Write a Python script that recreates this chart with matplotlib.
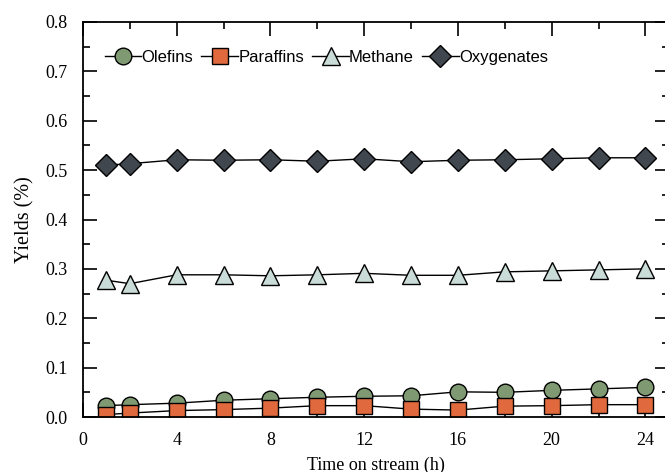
import numpy as np
import matplotlib.pyplot as plt
from matplotlib.ticker import MultipleLocator

# Time on stream (h)
time_h = [1, 2, 4, 6, 8, 10, 12, 14, 16, 18, 20, 22, 24]

olefins = [0.023, 0.025, 0.028, 0.034, 0.037, 0.040, 0.042, 0.043, 0.051, 0.050, 0.054, 0.057, 0.060]
paraffins = [0.005, 0.008, 0.013, 0.015, 0.018, 0.023, 0.023, 0.016, 0.014, 0.022, 0.023, 0.025, 0.025]
methane = [0.277, 0.270, 0.288, 0.288, 0.286, 0.288, 0.291, 0.287, 0.287, 0.294, 0.296, 0.298, 0.300]
oxygenates = [0.510, 0.513, 0.521, 0.520, 0.521, 0.518, 0.523, 0.517, 0.520, 0.521, 0.523, 0.525, 0.525]

series = [
    ("Olefins", olefins, 'o', '#7f9a72', 12),
    ("Paraffins", paraffins, 's', '#e0693e', 11),
    ("Methane", methane, '^', '#c9dcd8', 13),
    ("Oxygenates", oxygenates, 'D', '#41474f', 11),
]

plt.rcParams['font.family'] = 'Liberation Serif'

fig = plt.figure(figsize=(6.65, 4.72), dpi=100)
# axes run slightly past the right edge of the canvas, as in the original
ax = fig.add_axes([0.1248, 0.1165, 0.881, 0.8369])

for name, vals, mk, col, ms in series:
    ax.plot(time_h, vals, color='black', linewidth=1.0, marker=mk, markersize=ms,
            markerfacecolor=col, markeredgecolor='black', markeredgewidth=1.0,
            label=name)

ax.set_xlim(0, 25)
ax.set_ylim(0, 0.8)
ax.set_xticks([0, 4, 8, 12, 16, 20, 24])
ax.xaxis.set_minor_locator(MultipleLocator(2))
ax.yaxis.set_major_locator(MultipleLocator(0.1))
ax.yaxis.set_minor_locator(MultipleLocator(0.05))
ax.set_yticklabels([f"{v:.1f}" for v in ax.get_yticks()])
ax.tick_params(which='both', direction='in', top=True, right=True, labelsize=13, pad=11)
ax.tick_params(which='major', length=10, width=1.2)
ax.tick_params(which='minor', length=5, width=1.2)
for sp in ax.spines.values():
    sp.set_linewidth(1.3)

ax.set_xlabel("Time on stream (h)", fontsize=13, labelpad=5)
ax.set_ylabel("Yields (%)", fontsize=14.5, labelpad=8)

leg = ax.legend(loc='upper left', bbox_to_anchor=(0.02, 0.955), ncol=4, frameon=False,
                prop={'family': 'Liberation Sans', 'size': 12},
                handlelength=2.2, handletextpad=0.0, columnspacing=0.5, borderaxespad=0.2)

fig.savefig("out.png", dpi=100)
